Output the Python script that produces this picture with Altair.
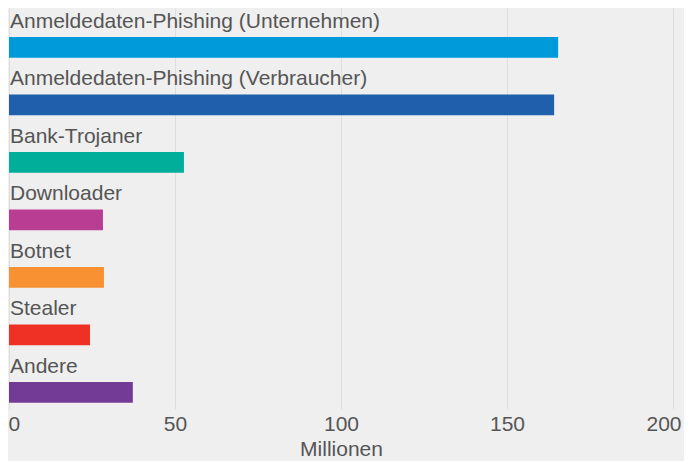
import altair as alt
import pandas as pd

categories = [
    "Anmeldedaten-Phishing (Unternehmen)",
    "Anmeldedaten-Phishing (Verbraucher)",
    "Bank-Trojaner",
    "Downloader",
    "Botnet",
    "Stealer",
    "Andere",
]
values = [165.4, 164.2, 52.7, 28.3, 28.6, 24.4, 37.3]
colors = ["#0099d9", "#1f5fab", "#00ae99", "#b93d93", "#f79131", "#ef3125", "#743b96"]
x_ticks = [0, 50, 100, 150, 200]

df = pd.DataFrame({"cat": categories, "val": values, "color": colors})

TEXT = "#555555"
FONT = "Liberation Sans"

yscale = alt.Scale(domain=categories, paddingInner=0.64, paddingOuter=0.307, align=0.82)
xscale = alt.Scale(domain=[0, 200], nice=False)

bars = alt.Chart(df).mark_bar(cornerRadius=0).encode(
    x=alt.X("val:Q", scale=xscale,
            axis=alt.Axis(title="Millionen", values=x_ticks, grid=True, gridColor="#dedede",
                          gridWidth=1, domain=False, ticks=False, labelPadding=4,
                          labelFlush=False, labelOverlap=False,
                          labelAlign={"condition": [
                                          {"test": "datum.value == 0", "value": "left"},
                                          {"test": "datum.value == 200", "value": "right"}],
                                      "value": "center"},
                          labelOffset={"condition": [
                                           {"test": "datum.value == 0", "value": -1},
                                           {"test": "datum.value == 200", "value": 8}],
                                       "value": 0},
                          labelFontSize=21, labelColor=TEXT, labelFont=FONT,
                          titleFontSize=21, titleColor=TEXT, titleFont=FONT,
                          titleFontWeight="normal", titlePadding=4)),
    x2=alt.X2(datum=0),
    y=alt.Y("cat:N", scale=yscale, axis=None, sort=categories),
    color=alt.Color("color:N", scale=None),
)

labels = alt.Chart(df).mark_text(
    align="left", baseline="alphabetic", dy=-9, dx=1,
    fontSize=21, font=FONT, color=TEXT,
).encode(
    x=alt.X(datum=0, scale=xscale),
    y=alt.Y("cat:N", scale=yscale, axis=None, sort=categories, bandPosition=0),
    text="cat:N",
)

chart = alt.layer(bars, labels).properties(
    width=664, height=401, background="#efefef",
    autosize=alt.AutoSizeParams(type="none"),
    padding={"left": 1, "top": 0, "right": 11, "bottom": 52},
).configure_view(stroke=None)

chart.save("out.html", embed_options={"renderer": "svg", "actions": False})
